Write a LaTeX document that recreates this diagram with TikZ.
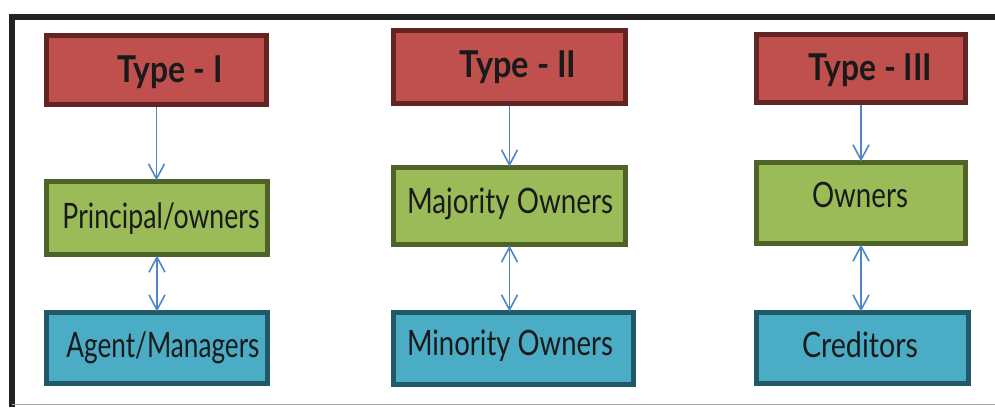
\documentclass[tikz,border=0pt]{standalone}
\usepackage{fontspec}
\setmainfont{Lato}
\usetikzlibrary{arrows.meta}

\definecolor{redfill}{HTML}{C0504D}
\definecolor{redline}{HTML}{632523}
\definecolor{greenfill}{HTML}{9BBB59}
\definecolor{greenline}{HTML}{4F6228}
\definecolor{bluefill}{HTML}{4BACC6}
\definecolor{blueline}{HTML}{215968}
\definecolor{linkblue}{HTML}{4F86C6}
\definecolor{inktext}{HTML}{1A1A1A}
\definecolor{framedark}{HTML}{222222}

% set a label at a fixed width, keeping its natural height
\newcommand{\fitw}[2]{\resizebox{#1pt}{\height}{#2}}

\begin{document}
\begin{tikzpicture}[x=1pt,y=-1pt,
  box/.style={draw, line width=5pt, inner sep=0pt},
  typebox/.style={box, fill=redfill, draw=redline},
  ownbox/.style={box, fill=greenfill, draw=greenline},
  partybox/.style={box, fill=bluefill, draw=blueline},
  lbl/.style={inner sep=0pt, anchor=base, text=inktext, font=\fontsize{35}{40}\selectfont},
  typelbl/.style={lbl, font=\fontsize{37}{42}\selectfont\bfseries},
  barb/.tip={Straight Barb[length=15pt,width=16pt]},
  link/.style={draw=linkblue, line width=1.6pt, -barb, shorten >=-1.5pt},
  duallink/.style={draw=linkblue, line width=1.6pt, barb-barb, shorten >=-1.5pt, shorten <=-1.5pt},
]
\useasboundingbox (0,0) rectangle (995,407);

% outer frame
\draw[framedark, line width=5.5pt] (12,407) -- (12,17) -- (995,17);
\draw[black!35, line width=1.5pt] (12,404.5) -- (995,404.5);

% column I
\node[typebox, minimum width=220pt, minimum height=69pt] (t1) at (156.5,70) {};
\node[ownbox, minimum width=221pt, minimum height=73pt] (o1) at (157,218) {};
\node[partybox, minimum width=221pt, minimum height=71pt] (a1) at (157,348) {};
\node[typelbl] (t1l) at (170,82) {\fitw{105}{Type - I}};
\node[lbl] (o1l) at (161,228) {\fitw{197}{Principal/owners}};
\node[lbl] (a1l) at (163,357) {\fitw{193}{Agent/Managers}};

% column II
\node[typebox, minimum width=232pt, minimum height=73pt] (t2) at (509.5,67) {};
\node[ownbox, minimum width=232pt, minimum height=77pt] (o2) at (509.5,206) {};
\node[partybox, minimum width=240pt, minimum height=72pt] (a2) at (513.5,348.5) {};
\node[typelbl] (t2l) at (518,77) {\fitw{117}{Type - II}};
\node[lbl] (o2l) at (510,213) {\fitw{206}{Majority Owners}};
\node[lbl] (a2l) at (510,355) {\fitw{206}{Minority Owners}};

% column III
\node[typebox, minimum width=209pt, minimum height=68pt] (t3) at (861,68.5) {};
\node[ownbox, minimum width=209pt, minimum height=81pt] (o3) at (861,203) {};
\node[partybox, minimum width=212pt, minimum height=71pt] (a3) at (862.5,348) {};
\node[typelbl] (t3l) at (870,80) {\fitw{124}{Type - III}};
\node[lbl] (o3l) at (860,207) {\fitw{96}{Owners}};
\node[lbl] (a3l) at (860,357) {\fitw{116}{Creditors}};

% connectors
\draw[link] (t1.south) -- (t1.south |- o1.north);
\draw[link] (t2.south) -- (t2.south |- o2.north);
\draw[link] (t3.south) -- (t3.south |- o3.north);
\draw[duallink] (o1.south) -- (o1.south |- a1.north);
\draw[duallink] (o2.south) -- (o2.south |- a2.north);
\draw[duallink] (o3.south) -- (o3.south |- a3.north);
\end{tikzpicture}
\end{document}
